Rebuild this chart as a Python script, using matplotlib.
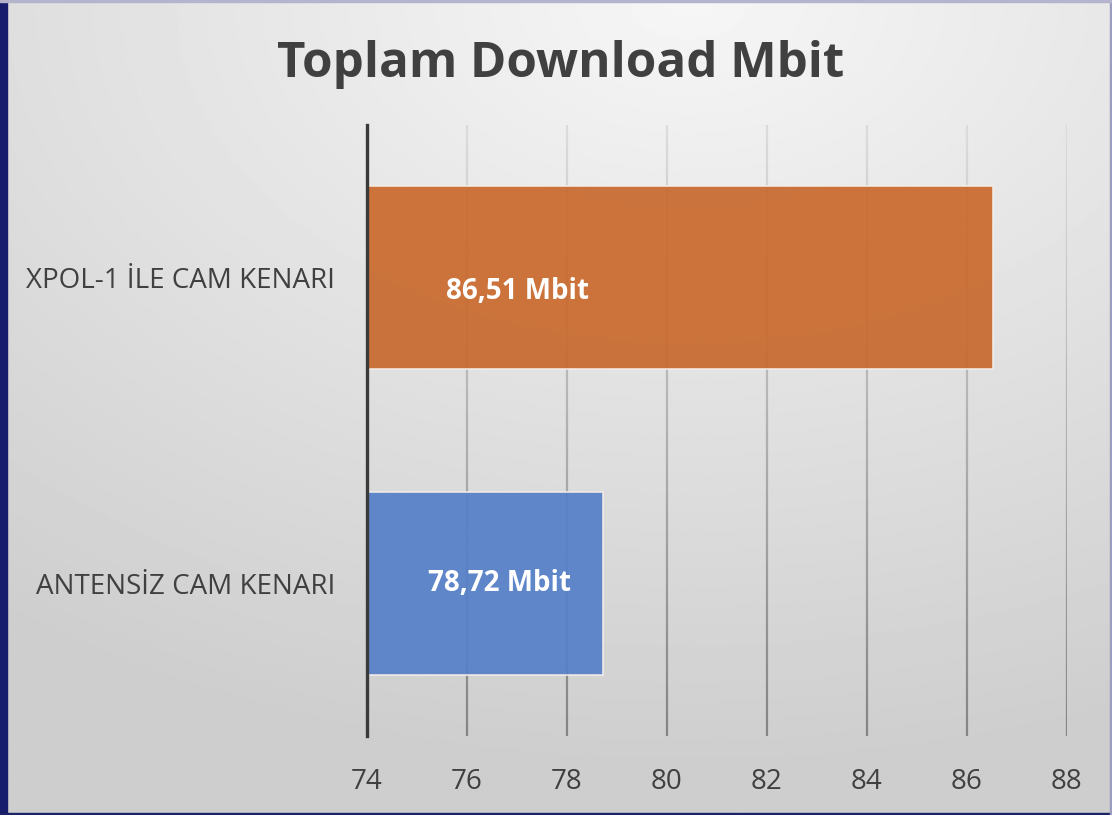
import numpy as np, matplotlib; matplotlib.use('Agg')
import matplotlib.pyplot as plt
from matplotlib.collections import LineCollection
from matplotlib.patches import Rectangle

categories = ['ANTENSİZ CAM KENARI', 'XPOL-1 İLE CAM KENARI']
values = [78.72, 86.51]
value_labels = ['78,72 Mbit', '86,51 Mbit']
bar_colors = ['#5580C8', '#C96A2E']
xticks = [74, 76, 78, 80, 82, 84, 86, 88]

plt.rcParams['font.family'] = ['Open Sans', 'DejaVu Sans']
TXT = '#404040'

fig = plt.figure(figsize=(11.12, 8.15), dpi=100)

# background: radial gradient, light near top centre, grey toward bottom corners
bg = fig.add_axes([0, 0, 1, 1], zorder=-10)
yy, xx = np.mgrid[0:1:300j, 0:1:400j]
r = np.sqrt((xx - 0.62) ** 2 + (yy * 1.1) ** 2)
shade = 0.965 - 0.16 * np.clip(r / 1.05, 0, 1)
bg.imshow(shade, cmap='gray', vmin=0, vmax=1, extent=[0, 1, 0, 1], origin='upper', aspect='auto')
bg.set_axis_off()

# frame borders
fig.patches.append(Rectangle((0, 0), 7 / 1112, 1, transform=fig.transFigure, color='#181c6c', zorder=5))
fig.patches.append(Rectangle((0, 0), 1, 2.5 / 815, transform=fig.transFigure, color='#1c2266', zorder=5))
fig.patches.append(Rectangle((1 - 2 / 1112, 0), 2 / 1112, 1, transform=fig.transFigure, color='#9a9cc0', zorder=5))
fig.patches.append(Rectangle((0, 1 - 2 / 815), 1, 2 / 815, transform=fig.transFigure, color='#b4b4cc', zorder=5))

ax = fig.add_axes([367 / 1112, 79 / 815, 700 / 1112, 611 / 815])
ax.patch.set_alpha(0)
ax.set_xlim(74, 88); ax.set_ylim(-0.5, 1.5)

# gridlines with vertical fade (lighter at top)
n = 60
ys = np.linspace(-0.5, 1.5, n + 1)
for t in xticks[1:]:
    segs = [[(t, ys[i]), (t, ys[i + 1])] for i in range(n)]
    g = np.linspace(0.52, 0.86, n)
    cols = np.stack([g, g, g, np.ones(n)], 1)
    ax.add_collection(LineCollection(segs, colors=cols, linewidths=1.6, zorder=1))

ax.barh(range(len(values)), [v - 74 for v in values], left=74, height=0.6,
        color=bar_colors, alpha=0.93, edgecolor='#f4eee8', linewidth=1.2, zorder=2)

label_x = [76.66, 77.0]
label_dy = [0.0, -0.046]
for i, (lx, dy, s) in enumerate(zip(label_x, label_dy, value_labels)):
    ax.text(lx, i + dy, s, ha='center', va='center', color='white', fontsize=20,
            fontweight='bold', zorder=3)

ax.axvline(74, color='#3a3a3a', lw=2.4, zorder=4, clip_on=False)
for s in ax.spines.values():
    s.set_visible(False)
ax.set_yticks(range(len(categories)))
ax.set_yticklabels(categories, fontsize=20, color=TXT)
ax.set_xticks(xticks)
ax.set_xticklabels([str(t) for t in xticks], fontsize=20, color=TXT)
ax.tick_params(length=0)
ax.tick_params(axis='x', pad=23)
ax.tick_params(axis='y', pad=23)

fig.text(0.504, 1 - 77 / 815, 'Toplam Download Mbit', ha='center', va='baseline',
         fontsize=35.5, fontweight='bold', color=TXT)

fig.savefig('out.png', dpi=100)
